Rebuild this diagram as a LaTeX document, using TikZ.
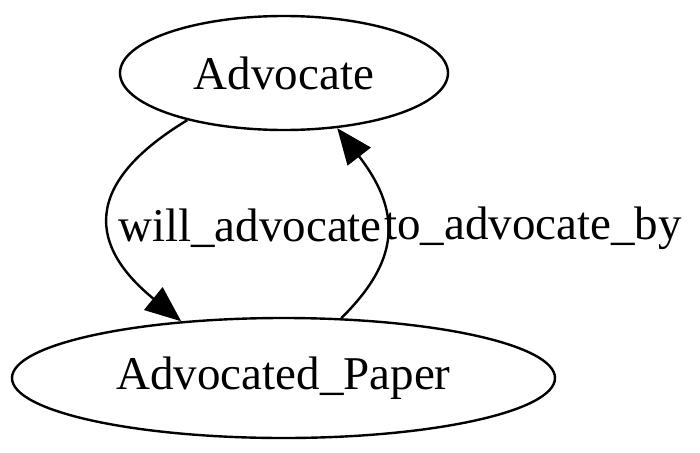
\documentclass[tikz,border=0pt]{standalone}
\usepackage{fontspec}
\setmainfont{Liberation Serif}
\usetikzlibrary{shapes.geometric,arrows.meta}
\begin{document}
\begin{tikzpicture}[x=1pt,y=-1pt,
  state/.style={ellipse,draw,line width=2.4pt,inner sep=0pt,font=\fontsize{47}{50}\selectfont},
  edge/.style={line width=2.4pt,-{Triangle[length=36pt,width=29pt]}},
  elabel/.style={font=\fontsize{47}{50}\selectfont,inner sep=0pt}]
\useasboundingbox (0,0) rectangle (700,452);
\node[state,minimum width=328pt,minimum height=114pt] (adv) at (284,73) {Advocate};
\node[state,minimum width=543pt,minimum height=120pt] (pap) at (283.5,378) {Advocated\_Paper};
\draw[edge] (adv.206) .. controls (80,185) and (90,247) .. (pap.151);
\draw[edge] (pap.46) .. controls (395,265) and (406,217) .. (adv.314);
\node[elabel] (l1) at (250,228) {will\_advocate};
\node[elabel] (l2) at (533,228) {to\_advocate\_by};
\end{tikzpicture}
\end{document}
